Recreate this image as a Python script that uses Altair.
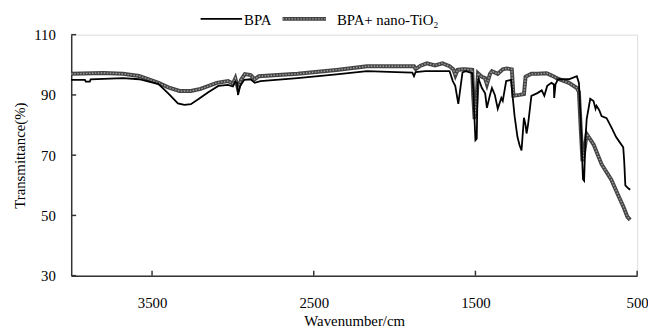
import altair as alt
import pandas as pd

# ---- data ----
series_names = ["BPA", "BPA+ nano-TiO₂"]

wn_bpa = [4000, 3915, 3910, 3885, 3880, 3680, 3580, 3460, 3400, 3340, 3300, 3260, 3210, 3150,
          3090, 3030, 3000, 2985, 2975, 2968, 2955, 2930, 2890, 2865, 2830, 2600, 2360, 2170,
          1990, 1890, 1880, 1870, 1810, 1660, 1640, 1625, 1606, 1590, 1580, 1560, 1520, 1514,
          1500, 1492, 1486, 1480, 1460, 1440, 1429, 1410, 1398, 1380, 1362, 1340, 1331, 1310,
          1280, 1258, 1240, 1227, 1215, 1200, 1190, 1184, 1175, 1154, 1117, 1090, 1074, 1056,
          1030, 1015, 1013, 1005, 990, 922, 873, 860, 848, 835, 828, 820, 812, 790, 770, 757,
          751, 735, 720, 689, 659, 630, 604, 586, 580, 573, 555, 543]
t_bpa = [95.0, 95.0, 94.4, 94.4, 95.2, 95.6, 95.2, 93.6, 90.5, 87.2, 86.7, 86.9, 88.7, 91.0,
         93.0, 93.3, 92.8, 94.5, 94.0, 90.0, 93.0, 95.0, 95.2, 94.0, 94.6, 95.6, 96.8, 97.9,
         97.6, 97.4, 96.2, 97.6, 97.9, 97.9, 94.6, 93.0, 87.0, 93.5, 97.5, 97.9, 97.2, 92.0,
         75.0, 75.5, 94.0, 95.2, 92.3, 90.5, 85.7, 90.0, 92.3, 90.0, 85.4, 89.0, 88.0, 94.6,
         95.0, 83.0, 76.0, 73.3, 71.6, 82.4, 80.0, 77.2, 80.0, 89.7, 90.6, 91.5, 89.7, 93.0,
         94.0, 93.5, 89.0, 93.5, 95.2, 95.2, 96.2, 94.0, 80.0, 62.0, 61.5, 75.0, 82.0, 88.7,
         88.0, 85.4, 86.4, 85.0, 83.0, 82.3, 79.2, 76.0, 74.0, 72.6, 68.0, 60.0, 59.0, 58.5]

wn_tio2 = [4000, 3800, 3680, 3580, 3460, 3400, 3330, 3260, 3200, 3100, 3030, 3000, 2985, 2968,
           2950, 2926, 2890, 2865, 2840, 2600, 2360, 2170, 1990, 1880, 1869, 1840, 1800, 1750,
           1704, 1660, 1636, 1624, 1610, 1580, 1563, 1520, 1514, 1505, 1496, 1484, 1460, 1441,
           1429, 1410, 1398, 1362, 1331, 1307, 1275, 1265, 1227, 1200, 1190, 1154, 1117, 1060,
           1031, 1013, 995, 922, 873, 860, 848, 838, 830, 812, 787, 769, 720, 659, 620, 586,
           560, 543]
t_tio2 = [97.0, 97.3, 97.0, 96.3, 94.0, 92.5, 91.3, 91.3, 92.0, 94.0, 94.6, 93.8, 95.5, 92.0,
          95.0, 96.9, 96.6, 95.2, 96.2, 97.0, 98.3, 99.5, 99.5, 99.5, 98.6, 99.7, 100.5, 99.8,
          100.5, 99.5, 98.5, 96.5, 98.3, 98.5, 98.5, 98.3, 90.0, 82.0, 86.0, 97.2, 96.0, 95.6,
          93.5, 97.0, 97.9, 97.0, 98.5, 98.8, 98.5, 89.7, 90.0, 90.3, 96.0, 97.0, 97.0, 97.2,
          96.5, 96.0, 95.5, 94.0, 92.3, 91.0, 78.0, 68.0, 70.0, 77.0, 75.0, 73.5, 67.0, 61.8,
          57.0, 53.0, 49.5, 48.5]

x_ticks = [3500, 2500, 1500, 500]
y_ticks = [30, 50, 70, 90, 110]

# ---- layout / style ----
W, H = 573, 244
FONT = "Liberation Serif"
FS = 15
AX = "#333333"
GRAY_OUT = "#444444"
GRAY_IN = "#a0a0a0"

df_bpa = pd.DataFrame({"wn": wn_bpa, "t": t_bpa, "i": range(len(wn_bpa))})
df_tio2 = pd.DataFrame({"wn": wn_tio2, "t": t_tio2, "i": range(len(wn_tio2))})
one = pd.DataFrame({"a": [0]})

xscale = alt.Scale(domain=[500, 4000], reverse=True, nice=False, zero=False)
yscale = alt.Scale(domain=[30, 110], nice=False, zero=False)

x_axis = alt.Axis(values=x_ticks, format="d", ticks=False, grid=False, labelPadding=20,
                  labelFlush=False, labelOverlap=False,
                  labelFont=FONT, labelFontSize=FS, labelColor="black",
                  domainColor=AX, domainWidth=1.5,
                  title="Wavenumber/cm", titleFont=FONT, titleFontSize=FS,
                  titleFontWeight="normal", titleColor="black",
                  titleY=50, titleBaseline="alphabetic")
y_axis = alt.Axis(values=y_ticks, ticks=False, grid=False, labelPadding=16,
                  labelFlush=False, labelOverlap=False,
                  labelFont=FONT, labelFontSize=FS, labelColor="black",
                  domainColor=AX, domainWidth=1.5,
                  title="Transmittance(%)", titleFont=FONT, titleFontSize=FS,
                  titleFontWeight="normal", titleColor="black",
                  titleX=-52, titleY=H / 2, titleAngle=270, titleAlign="center",
                  titleBaseline="middle")

base_x = alt.X("wn:Q", scale=xscale, axis=x_axis)
base_y = alt.Y("t:Q", scale=yscale, axis=y_axis)

tio2_outer = alt.Chart(df_tio2).mark_line(color=GRAY_OUT, strokeWidth=4).encode(
    x=base_x, y=base_y, order="i:Q")
tio2_inner = alt.Chart(df_tio2).mark_line(color=GRAY_IN, strokeWidth=1.4,
                                          strokeDash=[1.5, 1.5]).encode(
    x=alt.X("wn:Q", scale=xscale), y=alt.Y("t:Q", scale=yscale), order="i:Q")
bpa_line = alt.Chart(df_bpa).mark_line(color="black", strokeWidth=1.8).encode(
    x=alt.X("wn:Q", scale=xscale), y=alt.Y("t:Q", scale=yscale), order="i:Q")

xt = alt.Chart(pd.DataFrame({"v": x_ticks})).mark_rule(color=AX, strokeWidth=1.5).encode(
    x=alt.X("v:Q", scale=xscale), y=alt.value(H), y2=alt.value(H - 5))
yt = alt.Chart(pd.DataFrame({"v": y_ticks})).mark_rule(color=AX, strokeWidth=1.5).encode(
    y=alt.Y("v:Q", scale=yscale), x=alt.value(0), x2=alt.value(5))

# ---- legend (drawn by hand above the plot) ----
LY = -16
leg1_line = alt.Chart(one).mark_rule(color="black", strokeWidth=2).encode(
    x=alt.value(131), x2=alt.value(173), y=alt.value(LY))
leg1_text = alt.Chart(one).mark_text(align="left", baseline="middle", font=FONT,
                                     fontSize=FS, color="black").encode(
    x=alt.value(175), y=alt.value(LY + 1), text=alt.value(series_names[0]))
leg2_outer = alt.Chart(one).mark_rule(color=GRAY_OUT, strokeWidth=4).encode(
    x=alt.value(214), x2=alt.value(258), y=alt.value(LY))
leg2_inner = alt.Chart(one).mark_rule(color=GRAY_IN, strokeWidth=1.4,
                                      strokeDash=[1.5, 1.5]).encode(
    x=alt.value(214), x2=alt.value(258), y=alt.value(LY))
leg2_text = alt.Chart(one).mark_text(align="left", baseline="middle", font=FONT,
                                     fontSize=FS, color="black").encode(
    x=alt.value(269), y=alt.value(LY + 1), text=alt.value(series_names[1]))

chart = alt.layer(
    tio2_outer, tio2_inner, bpa_line, xt, yt,
    leg1_line, leg1_text, leg2_outer, leg2_inner, leg2_text
).properties(
    width=W, height=H,
    autosize=alt.AutoSizeParams(type="none"),
    padding={"left": 64, "top": 25, "right": 11, "bottom": 52},
).configure_view(stroke=None).configure(background="white")

chart.save("out.html", embed_options={"renderer": "svg", "actions": False})
